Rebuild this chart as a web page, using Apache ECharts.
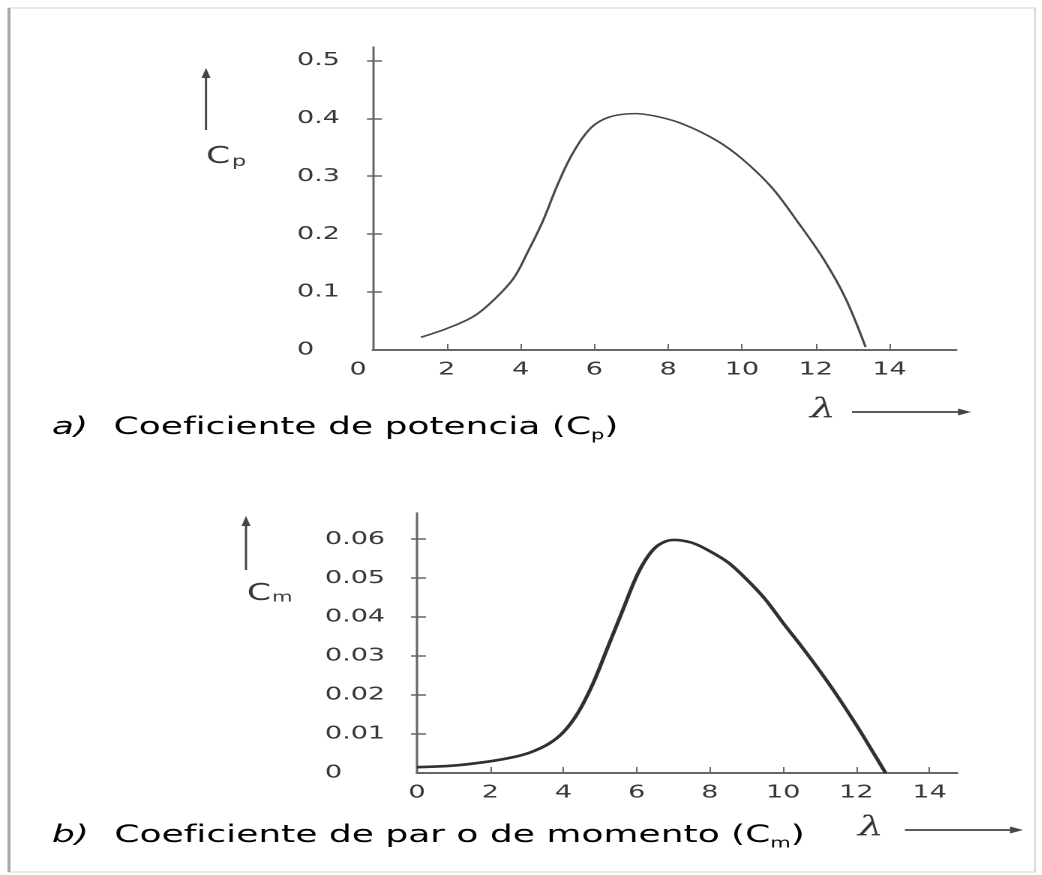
<!DOCTYPE html>
<html lang="es">
<head>
<meta charset="UTF-8">
<title>Coeficientes Cp y Cm</title>
<script src="https://cdn.jsdelivr.net/npm/echarts@6/dist/echarts.min.js"></script>
<style>
  html, body { margin: 0; padding: 0; background: #fff; overflow: hidden; }
  /* la figura original está estirada en horizontal: se dibuja estrecha y se estira */
  #chart { width: 695px; height: 875px; transform: scaleX(1.5); transform-origin: 0 0; }
</style>
</head>
<body>
<div id="chart"></div>
<script>
// a) coeficiente de potencia
const cpLambda = [1.3, 2.0, 2.7, 3.2, 3.8, 4.2, 4.6, 5.0, 5.4, 5.9, 6.4, 7.1, 7.7, 8.4, 9.3, 10.0, 10.8, 11.5, 12.2, 12.8, 13.35];
const cpValues = [0.022, 0.037, 0.057, 0.082, 0.123, 0.17, 0.222, 0.285, 0.338, 0.383, 0.402, 0.408, 0.403, 0.39, 0.362, 0.33, 0.281, 0.222, 0.158, 0.09, 0.005];

// b) coeficiente de par o de momento
const cmLambda = [0, 1.0, 2.0, 2.6, 3.1, 3.6, 4.0, 4.4, 4.8, 5.2, 5.6, 6.0, 6.3, 6.6, 7.0, 7.5, 8.0, 8.5, 9.0, 9.5, 10.0, 10.5, 11.0, 11.5, 12.0, 12.4, 12.8];
const cmValues = [0.0015, 0.0019, 0.003, 0.004, 0.0053, 0.0075, 0.0105, 0.0155, 0.0228, 0.032, 0.0413, 0.0505, 0.0555, 0.0585, 0.0598, 0.0591, 0.0569, 0.054, 0.0497, 0.0447, 0.0385, 0.0325, 0.0262, 0.0195, 0.0123, 0.0062, 0.0];

// marcas de los ejes
const lambdaTicks = [0, 2, 4, 6, 8, 10, 12, 14];
const cpTicks = [0, 0.1, 0.2, 0.3, 0.4, 0.5];
const cmTicks = [0, 0.01, 0.02, 0.03, 0.04, 0.05, 0.06];

const STRETCH = 1.5;
const TEXT_COLOR = '#383838';
const AXIS_COLOR = '#666666';
const FONT = 'DejaVu Sans';

document.addEventListener('DOMContentLoaded', function () {
    const chart = echarts.init(document.getElementById('chart'), null, { renderer: 'canvas', devicePixelRatio: 2 });
    chart.setOption(getChartOptions());
});

// pasa una x medida en la imagen final al lienzo sin estirar
function sx(px) {
    return px / STRETCH;
}

function toPairs(xs, ys) {
    return xs.map((x, i) => [x, ys[i]]);
}

// eje x con marcas hacia dentro
function makeXAxis(gridIndex, max, zeroPad) {
    return {
        type: 'value',
        gridIndex: gridIndex,
        min: 0,
        max: max,
        splitLine: { show: false },
        axisLine: { show: true, lineStyle: { color: AXIS_COLOR, width: 2 } },
        axisTick: { show: true, inside: true, length: 6, customValues: lambdaTicks.slice(1), lineStyle: { color: AXIS_COLOR, width: 1 } },
        axisLabel: {
            show: true,
            customValues: lambdaTicks,
            margin: 11,
            color: TEXT_COLOR,
            fontFamily: FONT,
            fontSize: 18,
            formatter: function (v) {
                return v === 0 && zeroPad ? '{z|0}' : String(v);
            },
            rich: { z: { fontFamily: FONT, fontSize: 18, color: TEXT_COLOR, padding: [0, zeroPad || 0, 0, 0] } }
        }
    };
}

// eje y: uno con etiquetas y marcas hacia fuera, otro solo con marcas hacia dentro
function makeYAxes(gridIndex, max, ticks, labelMargin) {
    const base = {
        type: 'value',
        gridIndex: gridIndex,
        min: 0,
        max: max,
        splitLine: { show: false }
    };
    return [
        Object.assign({}, base, {
            axisLine: { show: true, lineStyle: { color: AXIS_COLOR, width: 1.5 } },
            axisTick: { show: true, inside: false, length: sx(6), customValues: ticks.slice(1), lineStyle: { color: AXIS_COLOR, width: 1.5 } },
            axisLabel: {
                show: true,
                customValues: ticks,
                margin: labelMargin,
                align: 'left',
                color: TEXT_COLOR,
                fontFamily: FONT,
                fontSize: 18,
                formatter: function (v) { return String(v); }
            }
        }),
        Object.assign({}, base, {
            position: 'left',
            axisLine: { show: false },
            axisTick: { show: true, inside: true, length: sx(9), customValues: ticks.slice(1), lineStyle: { color: AXIS_COLOR, width: 1.5 } },
            axisLabel: { show: false }
        })
    ];
}

// flecha horizontal (hacia la derecha) o vertical (hacia arriba)
function arrowRight(x1, x2, y) {
    const head = sx(13);
    return [
        { type: 'line', shape: { x1: x1, y1: y, x2: x2 - head, y2: y }, style: { stroke: '#444', lineWidth: 1.8 } },
        { type: 'polygon', shape: { points: [[x2, y], [x2 - head, y - 3.5], [x2 - head, y + 3.5]] }, style: { fill: '#444' } }
    ];
}

function arrowUp(x, y1, y2) {
    return [
        { type: 'line', shape: { x1: x, y1: y1, x2: x, y2: y2 + 9 }, style: { stroke: '#444', lineWidth: sx(2.2) } },
        { type: 'polygon', shape: { points: [[x, y2], [x - sx(4.5), y2 + 10], [x + sx(4.5), y2 + 10]] }, style: { fill: '#444' } }
    ];
}

function label(x, y, text, font) {
    return {
        type: 'text',
        x: x,
        y: y,
        style: { text: text, fill: TEXT_COLOR, font: font, textVerticalAlign: 'middle' }
    };
}

function caption(x, y, letter, body, sub) {
    return {
        type: 'text',
        x: x,
        y: y,
        style: {
            text: '{i|' + letter + '}{t|' + body + '(C}{s|' + sub + '}{t|)}',
            textVerticalAlign: 'middle',
            rich: {
                i: { fontFamily: FONT, fontStyle: 'italic', fontSize: 24, color: TEXT_COLOR, lineHeight: 30, padding: [0, 17, 0, 0] },
                t: { fontFamily: FONT, fontSize: 24, color: TEXT_COLOR, lineHeight: 30 },
                s: { fontFamily: FONT, fontSize: 14, color: TEXT_COLOR, lineHeight: 22, verticalAlign: 'bottom' }
            }
        }
    };
}

function getGraphics() {
    let g = [];
    // marco de la imagen
    g.push({ type: 'rect', shape: { x: sx(9), y: 8, width: sx(1026), height: 864 }, style: { fill: 'none', stroke: '#d6d6d6', lineWidth: 1 } });
    g.push({ type: 'line', shape: { x1: sx(9), y1: 8, x2: sx(9), y2: 872 }, style: { stroke: '#a8a8a8', lineWidth: sx(3) } });

    // nombres de los ejes y
    g = g.concat(arrowUp(sx(206), 130, 68));
    g.push(label(sx(206), 157, 'C', '23px "' + FONT + '"'));
    g.push(label(sx(232), 162, 'p', '15px "' + FONT + '"'));
    g = g.concat(arrowUp(sx(246), 570, 516));
    g.push(label(sx(247), 594, 'C', '23px "' + FONT + '"'));
    g.push(label(sx(272), 598, 'm', '14px "' + FONT + '"'));

    // lambda con flecha
    g.push(label(sx(810), 410, 'λ', 'italic 27px "DejaVu Serif"'));
    g = g.concat(arrowRight(sx(852), sx(971), 412));
    g.push(label(sx(858), 828, 'λ', 'italic 27px "DejaVu Serif"'));
    g = g.concat(arrowRight(sx(905), sx(1023), 830));

    // pies de figura
    g.push(caption(sx(52), 428, 'a)', 'Coeficiente de potencia ', 'p'));
    g.push(caption(sx(52), 836, 'b)', 'Coeficiente de par o de momento ', 'm'));
    return g;
}

function getChartOptions() {
    const yTop = makeYAxes(0, 0.523, cpTicks, sx(76));
    const yBottom = makeYAxes(1, 0.0667, cmTicks, sx(92));
    return {
        backgroundColor: '#ffffff',
        animation: false,
        grid: [
            { left: sx(373), top: 47, width: sx(583), height: 303, outerBoundsMode: 'none' },
            { left: sx(417), top: 513, width: sx(540), height: 260, outerBoundsMode: 'none' }
        ],
        xAxis: [makeXAxis(0, 15.8, 20), makeXAxis(1, 14.75, 0)],
        yAxis: yTop.concat(yBottom),
        series: [
            {
                name: 'Cp',
                type: 'line',
                xAxisIndex: 0,
                yAxisIndex: 0,
                data: toPairs(cpLambda, cpValues),
                smooth: 0.35,
                showSymbol: false,
                lineStyle: { color: '#474747', width: 1.6 }
            },
            {
                name: 'Cm',
                type: 'line',
                xAxisIndex: 1,
                yAxisIndex: 2,
                data: toPairs(cmLambda, cmValues),
                smooth: 0.35,
                showSymbol: false,
                lineStyle: { color: '#303030', width: 2.6 }
            }
        ],
        graphic: getGraphics()
    };
}
</script>
</body>
</html>
